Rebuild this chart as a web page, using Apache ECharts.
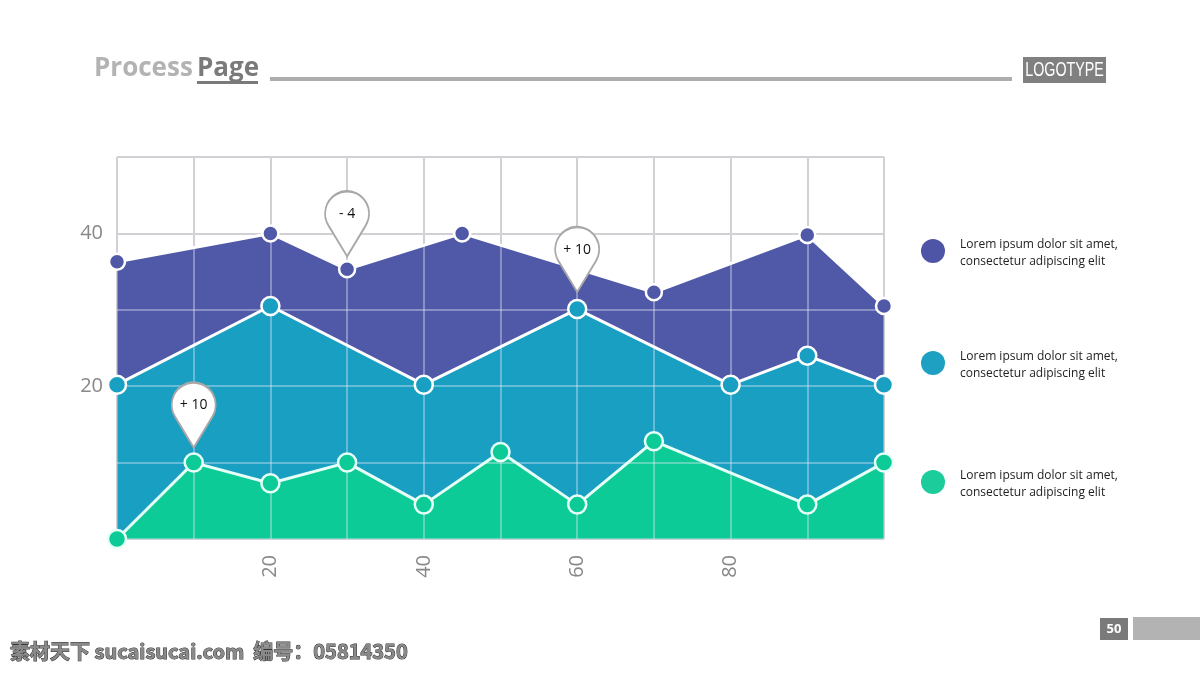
<!DOCTYPE html>
<html>
<head>
<meta charset="utf-8">
<script src="https://cdn.jsdelivr.net/npm/echarts@6/dist/echarts.min.js"></script>
<style>
html,body{margin:0;padding:0;background:#fff;}
#c{width:1200px;height:674px;}
</style>
</head>
<body>
<div id="c"></div>
<script>
// ---- data ----
const xTicks = [20, 40, 60, 80];
const yTicks = [20, 40];
const purpleX = [0, 20, 30, 45, 70, 90, 100];
const purpleY = [36.3, 40, 35.3, 40, 32.3, 39.8, 30.5];
const tealX = [0, 20, 40, 60, 80, 90, 100];
const tealY = [20.2, 30.5, 20.2, 30.1, 20.2, 24, 20.2];
const greenX = [0, 10, 20, 30, 40, 50, 60, 70, 90, 100];
const greenY = [0, 10, 7.3, 10, 4.5, 11.4, 4.5, 12.8, 4.5, 10];
const pinLabels = ['- 4', '+ 10', '+ 10'];
const pinPurple = [[30, 35.3]];
const pinGreen = [[10, 10]];
const pinTeal = [[60, 30.1]];
const legendText = ['Lorem ipsum dolor sit amet,\nconsectetur adipiscing elit',
                    'Lorem ipsum dolor sit amet,\nconsectetur adipiscing elit',
                    'Lorem ipsum dolor sit amet,\nconsectetur adipiscing elit'];

const C_PURPLE = '#5058a8', C_TEAL = '#199fc2', C_GREEN = '#0ccb96';
const zip = (xs, ys) => xs.map((x, i) => [x, ys[i]]);

const PIN = 'path://M22,64 L3.3,33.5 A22,22 0 1,1 40.7,33.5 Z';
function pins(coords, label, lift) {
  return {
    symbol: PIN,
    symbolSize: [44, 65],
    symbolOffset: [0, -(32.5 + lift)],
    itemStyle: { color: '#fff', borderColor: '#a8a8a8', borderWidth: 2 },
    label: { show: true, position: 'inside', offset: [0, -10], color: '#111', fontSize: 14,
             fontFamily: 'Open Sans', formatter: label },
    data: coords.map(c => ({ coord: c }))
  };
}

function areaSeries(xs, ys, color) {
  return { type: 'line', data: zip(xs, ys), symbol: 'none', z: 1,
           lineStyle: { width: 0 }, areaStyle: { color: color, opacity: 1 }, silent: true };
}
function lineSeries(xs, ys, color, size, border, mp) {
  const s = { type: 'line', data: zip(xs, ys), z: 3, symbol: 'circle', symbolSize: size,
           lineStyle: { color: border, width: 3 },
           itemStyle: { color: color, borderColor: border, borderWidth: 2.5 } };
  if (mp) s.markPoint = mp;
  return s;
}

const chart = echarts.init(document.getElementById('c'));
const option = {
  animation: false,
  grid: { left: 117, right: 316, top: 157, bottom: 135 },
  xAxis: [
    { type: 'value', min: 0, max: 100, interval: 10, z: 0,
      axisLine: { show: false }, axisTick: { show: false },
      splitLine: { show: true, lineStyle: { color: '#adadad', width: 1.5 } },
      axisLabel: { rotate: 90, margin: 16, color: '#888', fontSize: 20, fontFamily: 'Open Sans',
                   formatter: v => xTicks.includes(v) ? String(v) : '' } },
    { type: 'value', min: 0, max: 100, interval: 10, z: 2, position: 'top',
      axisLine: { show: false }, axisTick: { show: false }, axisLabel: { show: false },
      splitLine: { show: true, lineStyle: { color: 'rgba(235,235,248,0.5)', width: 1.5 } } }
  ],
  yAxis: [
    { type: 'value', min: 0, max: 50, interval: 10, z: 0,
      axisLine: { show: false }, axisTick: { show: false },
      splitLine: { show: true, lineStyle: { color: '#adadad', width: 1.5 } },
      axisLabel: { margin: 14, color: '#888', fontSize: 20, fontFamily: 'Open Sans',
                   padding: [3, 0, 0, 0],
                   formatter: v => yTicks.includes(v) ? String(v) : '' } },
    { type: 'value', min: 0, max: 50, interval: 10, z: 2, position: 'right',
      axisLine: { show: false }, axisTick: { show: false }, axisLabel: { show: false },
      splitLine: { show: true, lineStyle: { color: 'rgba(235,235,248,0.5)', width: 1.5 } } }
  ],
  series: [
    areaSeries(purpleX, purpleY, C_PURPLE),
    areaSeries(tealX, tealY, C_TEAL),
    areaSeries(greenX, greenY, C_GREEN),
    lineSeries(purpleX, purpleY, C_PURPLE, 16, '#ffffff', pins(pinPurple, pinLabels[0], 13)),
    lineSeries(tealX, tealY, C_TEAL, 18, '#ffffff', pins(pinTeal, pinLabels[2], 17)),
    lineSeries(greenX, greenY, C_GREEN, 18, '#e6fff7', pins(pinGreen, pinLabels[1], 15))
  ],
  graphic: [
    { type: 'text', x: 94, y: 56, style: { text: 'Process', fill: '#b3b3b3', verticalAlign: 'top',
      font: 'bold 26px "Open Sans"' } },
    { type: 'text', x: 197, y: 56, style: { text: 'Page', fill: '#7a7a7a', verticalAlign: 'top',
      font: 'bold 26px "Open Sans"' } },
    { type: 'rect', shape: { x: 197, y: 81, width: 61, height: 3 }, style: { fill: '#7a7a7a' } },
    { type: 'rect', shape: { x: 270, y: 77, width: 742, height: 4 }, style: { fill: '#adadad' } },
    { type: 'rect', shape: { x: 1023, y: 57, width: 83, height: 26 }, style: { fill: '#808080' } },
    { type: 'text', x: 1064.5, y: 70, scaleX: 0.68, style: { text: 'LOGOTYPE', fill: '#fff', align: 'center',
      verticalAlign: 'middle', font: '21px "Liberation Sans", sans-serif' } },
    { type: 'rect', shape: { x: 1100, y: 618, width: 28, height: 22 }, style: { fill: '#7a7a7a' } },
    { type: 'text', x: 1114, y: 629, style: { text: '50', fill: '#fff', align: 'center',
      verticalAlign: 'middle', font: 'bold 13px "Open Sans"' } },
    { type: 'rect', shape: { x: 1133, y: 617, width: 67, height: 23 }, style: { fill: '#b3b3b3' } },
    { type: 'circle', shape: { cx: 933, cy: 251, r: 12 }, style: { fill: '#4f55a6' } },
    { type: 'circle', shape: { cx: 933, cy: 363, r: 12 }, style: { fill: '#1ea0c2' } },
    { type: 'circle', shape: { cx: 933, cy: 482, r: 12 }, style: { fill: '#1ccc9a' } },
    { type: 'text', x: 960, y: 253, style: { text: legendText[0], fill: '#222', verticalAlign: 'middle',
      lineHeight: 17, font: '12px "Open Sans"' } },
    { type: 'text', x: 960, y: 365, style: { text: legendText[1], fill: '#222', verticalAlign: 'middle',
      lineHeight: 17, font: '12px "Open Sans"' } },
    { type: 'text', x: 960, y: 484, style: { text: legendText[2], fill: '#222', verticalAlign: 'middle',
      lineHeight: 17, font: '12px "Open Sans"' } },
    { type: 'text', x: 10, y: 651, style: { text: '素材天下 sucaisucai.com  编号：05814350', fill: '#8a8a8a',
      stroke: '#333', lineWidth: 1, verticalAlign: 'middle',
      font: 'bold 20px "Noto Sans CJK SC", sans-serif' } }
  ]
};
chart.setOption(option);
</script>
</body>
</html>
